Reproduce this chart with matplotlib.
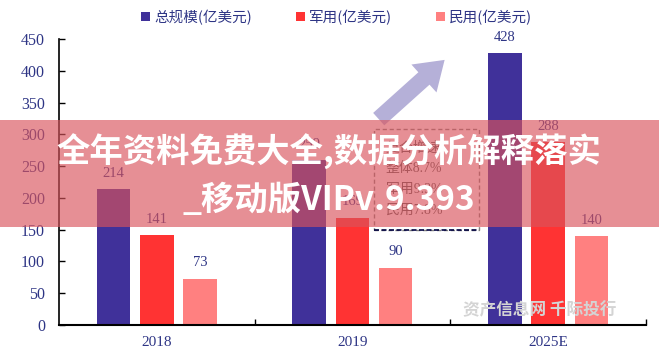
import matplotlib
matplotlib.use("Agg")
import matplotlib.pyplot as plt
import numpy as np
from matplotlib.patches import Rectangle

# data
years = ["2018", "2019", "2025E"]
total = [214, 259, 428]
military = [141, 169, 288]
civil = [73, 90, 140]
series_names = ["总规模(亿美元)", "军用(亿美元)", "民用(亿美元)"]
cagr_lines = ["复合增速", "整体8.7%", "军用9.3%", "民用7.8%"]

colors = ["#40319a", "#ff3333", "#ff8080"]
navy = "#2e3585"
num_font = ["Liberation Serif", "Noto Sans CJK SC", "DejaVu Sans"]
cjk_font = ["Noto Sans CJK SC", "DejaVu Sans"]
plt.rcParams["font.family"] = num_font

fig = plt.figure(figsize=(6.59, 3.48), dpi=100)
ax = fig.add_axes([0.0895, 0.066, 0.8905, 0.822])

x = np.arange(len(years))
w = 0.171
off = 0.221
for i, vals in enumerate([total, military, civil]):
    xs = x + (i - 1) * off
    ax.bar(xs, vals, width=w, color=colors[i], label=series_names[i], zorder=2)
    for xi, v in zip(xs, vals):
        ax.text(xi, v + 25, str(v), ha="center", va="center", fontsize=10.5, color=navy)

ax.set_xlim(-0.5, 2.5)
ax.set_ylim(0, 450)
ax.set_yticks(np.arange(0, 451, 50))
ax.set_xticks([0.5, 1.5, 2.5], minor=False)
ax.set_xticklabels([])
ax.set_xticks(x, minor=True)
ax.set_xticklabels(years, minor=True)
ax.tick_params(axis="x", which="major", direction="in", length=4, width=1)
ax.tick_params(axis="x", which="minor", length=0, pad=8, labelsize=11, labelcolor=navy)
ax.tick_params(axis="y", direction="in", length=4, width=1, labelsize=11.5, labelcolor=navy, pad=10)
ax.spines["top"].set_visible(False)
ax.spines["right"].set_visible(False)
ax.spines["left"].set_linewidth(1.2)
ax.spines["bottom"].set_linewidth(1.5)

# dashed CAGR box
ax.add_patch(Rectangle((1.11, 150), 0.535, 158, fill=False, edgecolor="#808080",
                       linestyle=(0, (3, 2)), linewidth=1, zorder=3))
ax.plot([1.11, 1.645], [150, 150], color="#000040", linestyle=(0, (3, 1.5)), linewidth=1.2, zorder=4)
for k, t in enumerate(cagr_lines):
    ax.text(1.17, 279 - k * 33, t, ha="left", va="center", fontsize=10,
            color="#555555", zorder=4)

# growth arrow
ax.annotate("", xy=(1.482, 420), xytext=(1.124, 321),
            arrowprops=dict(arrowstyle="simple,head_width=2.7,head_length=2.0,tail_width=1.2",
                            color="#b5b0d8", mutation_scale=10, lw=0), zorder=3)

leg = fig.legend(loc="center", bbox_to_anchor=(0.511, 0.951), ncol=3, frameon=False,
                 handlelength=0.6, handleheight=0.6, handletextpad=0.3, columnspacing=3.0,
                 prop={"family": cjk_font, "size": 10.5})
for t in leg.get_texts():
    t.set_color(navy)

# source watermark
fig.text(540 / 659, 1 - 310 / 348, "资产信息网 千际投行", ha="center", va="center",
         fontsize=12, color="#d4d4d4", family=cjk_font, weight="bold", zorder=5)

# overlay banner
fig.patches.append(Rectangle((0, 1 - 227 / 348), 1, 107 / 348, transform=fig.transFigure,
                             facecolor="#d9545c", alpha=0.65, edgecolor="none", zorder=10))
fig.text(329 / 659, 1 - 152 / 348, "全年资料免费大全,数据分析解释落实", ha="center", va="center",
         fontsize=24, color="white", weight="bold", family=cjk_font, zorder=11)
fig.text(329 / 659, 1 - 200 / 348, "_移动版VIPv.9.393", ha="center", va="center",
         fontsize=24, color="white", weight="bold", family=cjk_font, zorder=11)

fig.savefig("out.png", dpi=100)
